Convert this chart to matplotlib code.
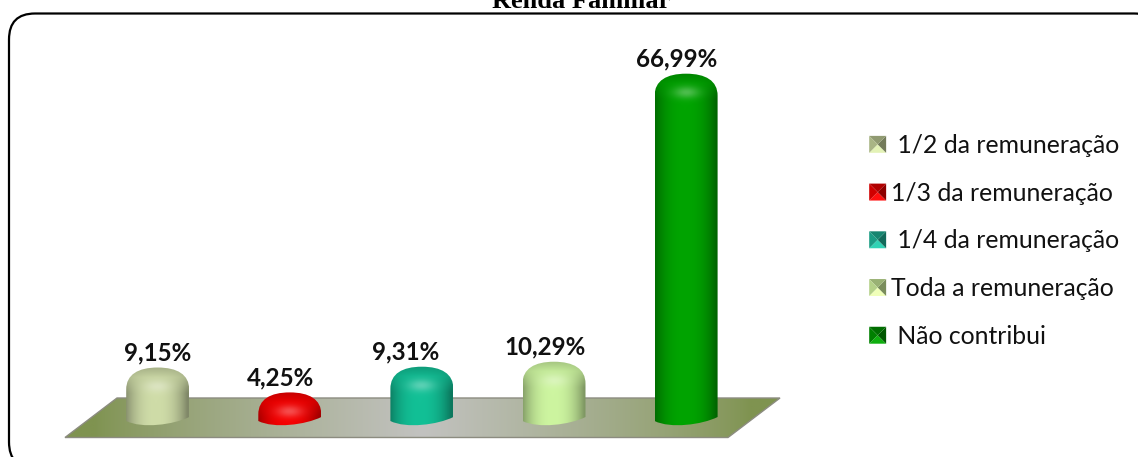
import numpy as np
import matplotlib
matplotlib.use("Agg")
import matplotlib.pyplot as plt
from matplotlib.colors import to_rgb
from matplotlib.legend_handler import HandlerBase
from matplotlib.patches import FancyBboxPatch, PathPatch, Polygon, Patch
from matplotlib.path import Path
from matplotlib.transforms import Affine2D

title = "Renda Familiar"
categories = [" 1/2 da remuneração", "1/3 da remuneração", " 1/4 da remuneração",
              "Toda a remuneração", " Não contribui"]
values = [9.15, 4.25, 9.31, 10.29, 66.99]
value_labels = ["9,15%", "4,25%", "9,31%", "10,29%", "66,99%"]
bar_colors = ["#cfdca8", "#f60000", "#12c096", "#cdf5a0", "#00a400"]
legend_colors = ["#a9b585", "#d00000", "#1a9c84", "#b4d088", "#008000"]
label_dx = [0, -9, -16, -9, -9]  # px offset of labels from bar centres

W, H = 1138, 457
plt.rcParams["font.family"] = ["Lato", "DejaVu Sans"]
fig = plt.figure(figsize=(W / 100, H / 100), dpi=100, facecolor="white")
ax = fig.add_axes([0, 0, 1, 1])

# category 0 at px 157.7, spacing 132.1 px; value 0 at px 414, 5.08 px per unit
X0, DX, Y0, DY = 157.7, 132.1, 414.0, 5.08
xlim = (-X0 / DX, (W - X0) / DX)
ylim = ((Y0 - H) / DY, Y0 / DY)
px = Affine2D().scale(1 / W, -1 / H).translate(0, 1) + fig.transFigure


def dx(p):
    return p / DX


def dy(p):
    return p / DY


# rounded panel (runs past the right and bottom edges of the picture)
panel = FancyBboxPatch((9 + 26, 13.5 + 26), 1160 - 9 - 52, 468 - 13.5 - 52,
                       boxstyle="round,pad=26,rounding_size=26",
                       transform=px, fc="white", ec="black", lw=1.6, zorder=0)
ax.add_patch(panel)

ax.text(581.5, 7.5, title, transform=px, ha="center", va="baseline",
        family="Liberation Serif", weight="bold", fontsize=19, color="black")

# floor
floor_xy = [(117, 398), (780, 398), (728, 437.5), (65, 437.5)]
t = np.linspace(0, 1, 256)[None, :]
olive, grey = np.array(to_rgb("#7f9350")), np.array(to_rgb("#c2c2c0"))
mix = np.clip(1 - np.abs(t - 0.5) / 0.46, 0, 1)[..., None] ** 0.8
floor_img = olive + (grey - olive) * mix
im = ax.imshow(floor_img, transform=px, extent=(65, 780, 437.5, 398),
               aspect="auto", zorder=1, interpolation="bilinear")
floor = Polygon(floor_xy, closed=True, transform=px, fc="none", ec="#8c8c80", lw=1, zorder=1.2)
ax.add_patch(floor)
im.set_clip_path(floor)


def bar_path(i, v):
    w = dx(31.5)
    base_l, base_r = dy(Y0 - 421), dy(Y0 - 417)
    depth = dy(6)
    top = v
    sh = v - dy(22)
    verts = [(i - w, base_l),
             (i - w * 0.5, base_l - depth * 1.3), (i + w * 0.5, base_r - depth * 1.3), (i + w, base_r),
             (i + w, sh),
             (i + w, top - dy(7)), (i + w * 0.62, top), (i, top),
             (i - w * 0.62, top), (i - w, top - dy(7)), (i - w, sh),
             (i - w, base_l)]
    codes = [Path.MOVETO, Path.CURVE4, Path.CURVE4, Path.CURVE4, Path.LINETO,
             Path.CURVE4, Path.CURVE4, Path.CURVE4, Path.CURVE4, Path.CURVE4, Path.CURVE4,
             Path.CLOSEPOLY]
    return Path(verts, codes)


def bar_image(v, color, bottom):
    c = np.array(to_rgb(color))
    rows = 200 if v < 20 else 700
    u = np.linspace(-1, 1, 128)
    ys = np.linspace(v, bottom, rows)          # data units, top row first
    depth_px = (v - ys) * DY
    across = 0.62 + 0.38 * np.clip(1 - np.abs(u + 0.05) ** 2.4, 0, 1)
    shade = np.tile(across, (rows, 1))[..., None]
    # the dome fades the side shading out towards the top
    dome = np.clip(1 - depth_px / 26, 0, 1)[:, None, None]
    img = c * (shade * (1 - dome) + 0.93 * dome)
    # darker rim at the very top, pale spot at the shoulder
    rim = np.clip(1 - depth_px / 10, 0, 1)[:, None, None]
    img = img * (1 - 0.14 * rim)
    spot = np.exp(-((depth_px - 19) / 6) ** 2)[:, None] * np.exp(-(u / 0.42) ** 2)[None, :]
    img = img + (1 - img) * 0.30 * spot[..., None]
    return np.clip(img, 0, 1)


for i, (v, col) in enumerate(zip(values, bar_colors)):
    bottom = dy(Y0 - 426)
    im = ax.imshow(bar_image(v, col, bottom), extent=(i - dx(31.5), i + dx(31.5), bottom, v),
                   aspect="auto", zorder=2, interpolation="bilinear")
    clip = PathPatch(bar_path(i, v), transform=ax.transData, fc="none", ec="none", zorder=2)
    ax.add_patch(clip)
    im.set_clip_path(clip)
    ax.annotate(value_labels[i], (i, v), xytext=(label_dx[i] * 0.72, 14.5 * 0.72),
                textcoords="offset points", ha="center", va="center",
                fontsize=17.4, weight="bold", color="#111111", zorder=3)


class BevelHandler(HandlerBase):
    def create_artists(self, legend, orig, xd, yd, width, height, fontsize, trans):
        c = np.array(to_rgb(orig.get_facecolor()))
        s = 12.2
        x0, y0 = width - s, (height - s) / 2
        m = (x0 + s / 2, y0 + s / 2)
        corners = [(x0, y0), (x0 + s, y0), (x0 + s, y0 + s), (x0, y0 + s)]
        # bottom, right, top, left faces of the little pyramid
        faces = [(0, 1, 1.25), (1, 2, 0.68), (2, 3, 0.85), (3, 0, 1.0)]
        out = []
        for a, b, f in faces:
            col = np.clip(c * f + (0.06 if f > 1 else 0), 0, 1)
            out.append(Polygon([corners[a], corners[b], m], closed=True, fc=col, ec="none",
                               transform=trans))
        return out


handles = [Patch(facecolor=c, label=l) for c, l in zip(legend_colors, categories)]
ax.legend(handles=handles, loc="upper left", bbox_to_anchor=(854 / W, 1 - 134 / H),
          bbox_transform=fig.transFigure, frameon=False, fontsize=17.8,
          handler_map={Patch: BevelHandler()}, handlelength=1.3, handletextpad=0.2,
          labelspacing=1.0, borderpad=0, borderaxespad=0, labelcolor="#111111")

ax.set_xlim(xlim)
ax.set_ylim(ylim)
ax.axis("off")
fig.savefig("out.png", dpi=100, facecolor="white")
